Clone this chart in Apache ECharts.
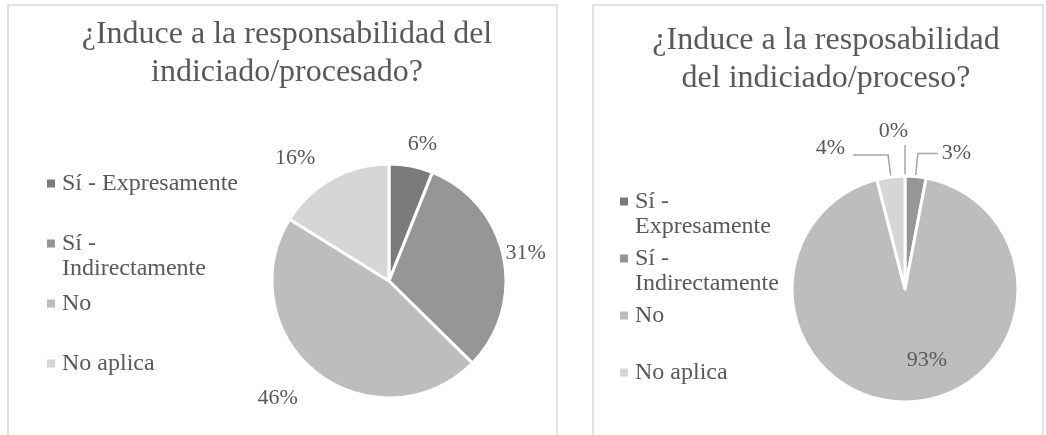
<!DOCTYPE html>
<html><head><meta charset="utf-8">
<script src="https://cdn.jsdelivr.net/npm/echarts@6.0.0/dist/echarts.min.js"></script>
<style>html,body{margin:0;padding:0;background:#fff}#c{width:1046px;height:435px}</style>
</head><body><div id="c"></div>
<script>
// ---- data ----
const categories = ['Sí - Expresamente', 'Sí - Indirectamente', 'No', 'No aplica'];
const leftTitle = '¿Induce a la responsabilidad del\nindiciado/procesado?';
const rightTitle = '¿Induce a la resposabilidad\ndel indiciado/proceso?';
const leftValues = [6, 31, 46, 16];
const rightValues = [0, 3, 93, 4];
const leftLegendText = ['Sí - Expresamente', 'Sí -\nIndirectamente', 'No', 'No aplica'];
const rightLegendText = ['Sí -\nExpresamente', 'Sí -\nIndirectamente', 'No', 'No aplica'];

// ---- style ----
const FONT = '"Liberation Serif", "Times New Roman", serif';
const TXT = '#595959';
const palette = ['#7b7b7b', '#969696', '#bdbdbd', '#d6d6d6'];
// square marker at the top of a 10x33 box (keeps marker on the first text line)
const ICON = 'path://M0,0H8V8H0Z M0,33L10,33';

function legendFmt(texts) {
  return function (name) {
    const t = texts[categories.indexOf(name)];
    return t.indexOf('\n') >= 0 ? t : t + '\n\u00a0';
  };
}

const leftItemOpts = [{}, { labelLine: { length: 0 } }, {}, {}];
const leftNudge = [[-8, 2], [2, -4], [-4, 6], [-5, 0]];
const rightItemOpts = [
  { labelLine: { length: 31, length2: 0 } },
  { labelLine: { length: 23, length2: 20 } },
  { label: { position: 'inside' } },
  { labelLine: { length: 22, length2: 35 }, label: { distanceToLabelLine: 8 } }
];
const rightNudge = [[7, -14], [0, 0], [20, 12], [0, -7]];

function buildData(values, extra) {
  return categories.map((n, i) => Object.assign({ name: n, value: values[i] }, extra[i]));
}

const labelStyle = { formatter: '{c}%', fontFamily: FONT, fontSize: 22, color: TXT };

const chart = echarts.init(document.getElementById('c'), null, { renderer: 'canvas' });
chart.setOption({
  animation: false,
  color: palette,
  graphic: [
    { type: 'rect', z: -10, shape: { x: 8, y: 5, width: 549, height: 450 }, style: { fill: 'none', stroke: '#d9d9d9', lineWidth: 1.5 } },
    { type: 'rect', z: -10, shape: { x: 593, y: 5, width: 450, height: 450 }, style: { fill: 'none', stroke: '#d9d9d9', lineWidth: 1.5 } }
  ],
  title: [
    { text: leftTitle, left: 282, top: 11, textAlign: 'center',
      textStyle: { fontFamily: FONT, fontSize: 32, fontWeight: 'normal', color: TXT, lineHeight: 38 } },
    { text: rightTitle, left: 821, top: 17, textAlign: 'center',
      textStyle: { fontFamily: FONT, fontSize: 32, fontWeight: 'normal', color: TXT, lineHeight: 38 } }
  ],
  legend: [
    { orient: 'vertical', left: 47, top: 171, padding: 0, itemWidth: 10, itemHeight: 33, itemGap: 10,
      icon: ICON, data: categories, formatter: legendFmt(leftLegendText), selectedMode: false,
      itemStyle: { borderWidth: 0 },
      textStyle: { fontFamily: FONT, fontSize: 24, color: TXT, lineHeight: 25 } },
    { orient: 'vertical', left: 620, top: 189, padding: 0, itemWidth: 10, itemHeight: 33, itemGap: 7,
      icon: ICON, data: categories, formatter: legendFmt(rightLegendText), selectedMode: false,
      itemStyle: { borderWidth: 0 },
      textStyle: { fontFamily: FONT, fontSize: 24, color: TXT, lineHeight: 25 } }
  ],
  series: [
    { type: 'pie', center: [389, 281], radius: 117, startAngle: 90, clockwise: true,
      avoidLabelOverlap: false, silent: true,
      data: buildData(leftValues, leftItemOpts),
      itemStyle: { borderColor: '#fff', borderWidth: 3 },
      label: Object.assign({ position: 'outer', distanceToLabelLine: 0 }, labelStyle),
      labelLine: { show: false, length: 24, length2: 0 },
      labelLayout: function (p) { const d = leftNudge[p.dataIndex]; return { dx: d[0], dy: d[1] }; } },
    { type: 'pie', center: [905, 289], radius: 113, startAngle: 90, clockwise: true,
      avoidLabelOverlap: false, silent: true,
      data: buildData(rightValues, rightItemOpts),
      itemStyle: { borderColor: '#fff', borderWidth: 3 },
      label: Object.assign({ position: 'outer', distanceToLabelLine: 4 }, labelStyle),
      labelLine: { show: true, length: 24, length2: 30, lineStyle: { color: '#a6a6a6', width: 1.5 } },
      labelLayout: function (p) { const d = rightNudge[p.dataIndex]; return { dx: d[0], dy: d[1] }; } }
  ]
});
</script></body></html>
